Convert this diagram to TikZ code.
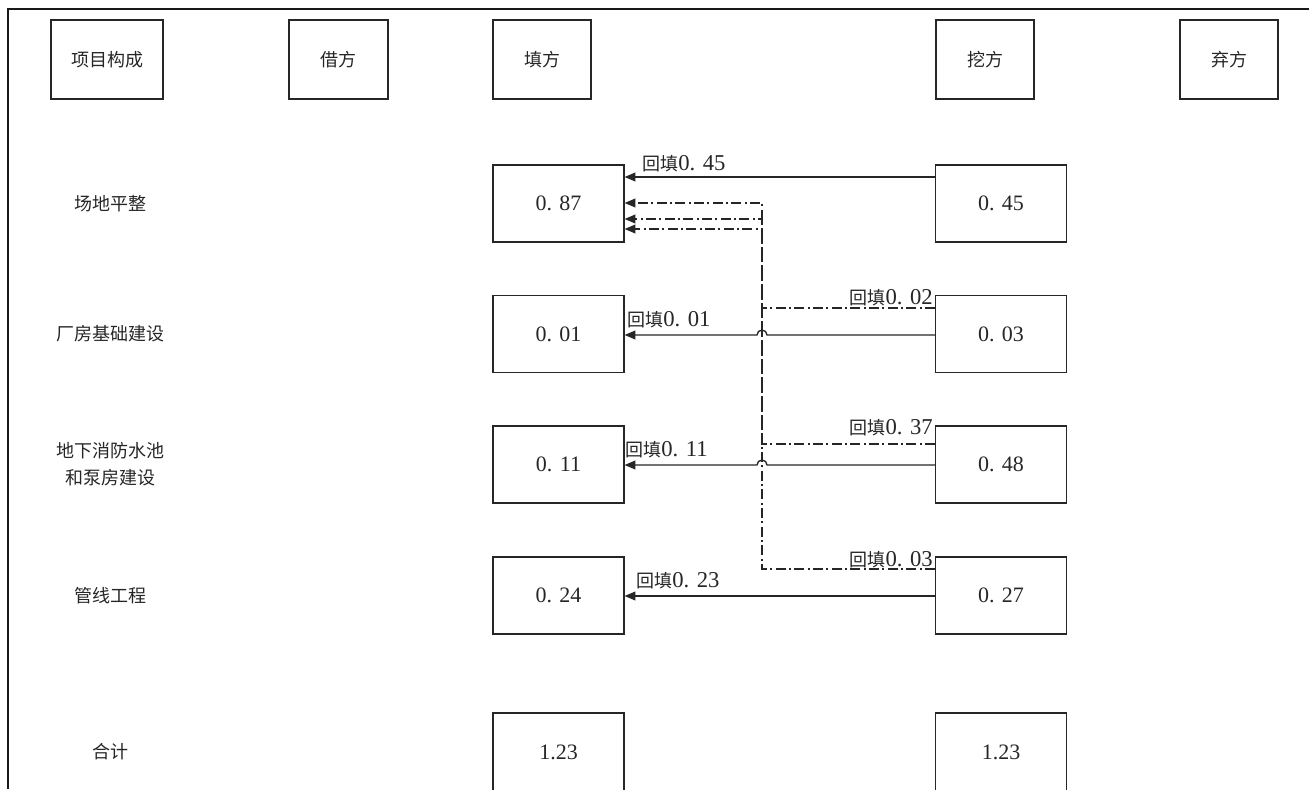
\documentclass[tikz,border=0pt]{standalone}
\usepackage{fontspec}
\setmainfont{Liberation Serif}
\newfontfamily\cjk{Noto Sans CJK SC}
\usetikzlibrary{arrows.meta}
% Chinese text and numerals
\newcommand\zh[1]{{\cjk\fontsize{13.5}{17}\selectfont #1}}
\newcommand\nm[1]{{\fontsize{16.5}{18}\selectfont #1}}
\newcommand\lnm[1]{{\fontsize{17}{18}\selectfont #1}}
\begin{document}
\begin{tikzpicture}[x=0.75pt,y=-0.75pt,
  cell/.style={draw=black!85, line width=0.9pt, inner sep=0pt,
    minimum width=98.25pt, minimum height=57.75pt, text=black!85},
  head/.style={cell, minimum height=59.25pt},
  rowlabel/.style={inner sep=0pt, text=black!85, align=center,
    font=\cjk\fontsize{13.5}{20}\selectfont},
  flow/.style={draw=black!85, line width=1pt, -{Triangle[length=8pt,width=6.5pt]}},
  back/.style={flow, dash pattern=on 7.5pt off 2.5pt on 1.5pt off 2.5pt},
  tag/.style={inner sep=0pt, text=black!85}]
\useasboundingbox (0,0) rectangle (1309,789);
\clip (0,0) rectangle (1309,789);

% outer frame (top and left edges)
\draw[line width=1pt, black!90] (1309,9) -- (8,9) -- (8,789);

% column headers
\node[head, minimum width=84pt]    (h1) at (107,59.5)   {\zh{项目构成}};
\node[head, minimum width=74.25pt] (h2) at (338.5,59.5) {\zh{借方}};
\node[head, minimum width=73.5pt]  (h3) at (542,59.5)   {\zh{填方}};
\node[head, minimum width=73.5pt]  (h4) at (985,59.5)   {\zh{挖方}};
\node[head, minimum width=73.5pt]  (h5) at (1229,59.5)  {\zh{弃方}};

% row titles
\node[rowlabel] (p1) at (110,203.5) {场地平整};
\node[rowlabel] (p2) at (110,334)   {厂房基础建设};
\node[rowlabel] (p3) at (110,464.5) {地下消防水池\\和泵房建设};
\node[rowlabel] (p4) at (110,595.5) {管线工程};
\node[rowlabel] (p5) at (110,752)   {合计};

% fill (left) and cut (right) quantities
\node[cell] (f1) at (558.5,203.5) {\nm{0. 87}};
\node[cell] (d1) at (1001,203.5)  {\nm{0. 45}};
\node[cell] (f2) at (558.5,334)   {\nm{0. 01}};
\node[cell] (d2) at (1001,334)    {\nm{0. 03}};
\node[cell] (f3) at (558.5,464.5) {\nm{0. 11}};
\node[cell] (d3) at (1001,464.5)  {\nm{0. 48}};
\node[cell] (f4) at (558.5,595.5) {\nm{0. 24}};
\node[cell] (d4) at (1001,595.5)  {\nm{0. 27}};
\node[cell, minimum height=58.5pt] (f5) at (558.5,752) {\nm{1.23}};
\node[cell, minimum height=58.5pt] (d5) at (1001,752)  {\nm{1.23}};

% levels of the transfer lines
\coordinate (jx) at (762,0);
\coordinate (a1) at (0,177);
\coordinate (a2) at (0,335);
\coordinate (a3) at (0,465);
\coordinate (a4) at (0,596);
\coordinate (b2) at (0,308);
\coordinate (b3) at (0,444);
\coordinate (b4) at (0,569);
\coordinate (t1) at (0,203);
\coordinate (t2) at (0,219);
\coordinate (t3) at (0,229);

% backfill inside each item
\draw[flow] (d1.west |- a1) -- (f1.east |- a1);
\draw[flow] (d2.west |- a2) -- ([xshift=3.75pt]jx |- a2)
  arc[start angle=0, end angle=180, radius=3.75pt] -- (f2.east |- a2);
\draw[flow] (d3.west |- a3) -- ([xshift=3.75pt]jx |- a3)
  arc[start angle=0, end angle=180, radius=3.75pt] -- (f3.east |- a3);
\draw[flow] (d4.west |- a4) -- (f4.east |- a4);

% surplus carried to site levelling
\draw[back] (d2.west |- b2) -- (jx |- b2) -- (jx |- t1) -- (f1.east |- t1);
\draw[back] (d3.west |- b3) -- (jx |- b3) -- (jx |- t2) -- (f1.east |- t2);
\draw[back] (d4.west |- b4) -- (jx |- b4) -- (jx |- t3) -- (f1.east |- t3);

% line labels
\node[tag, anchor=base west] (l45) at (642,170) {\zh{回填}\lnm{0. 45}};
\node[tag, anchor=base west] (l01) at (627,326) {\zh{回填}\lnm{0. 01}};
\node[tag, anchor=base east] (l02) at (933,304) {\zh{回填}\lnm{0. 02}};
\node[tag, anchor=base west] (l11) at (625,456) {\zh{回填}\lnm{0. 11}};
\node[tag, anchor=base east] (l37) at (933,434) {\zh{回填}\lnm{0. 37}};
\node[tag, anchor=base west] (l23) at (636,587) {\zh{回填}\lnm{0. 23}};
\node[tag, anchor=base east] (l03) at (933,566) {\zh{回填}\lnm{0. 03}};
\end{tikzpicture}
\end{document}
